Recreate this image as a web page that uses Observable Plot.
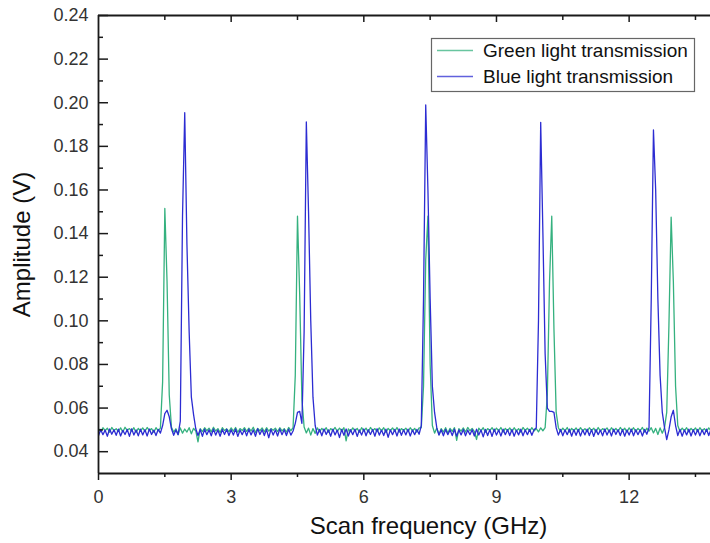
<!DOCTYPE html>
<html>
<head>
<meta charset="utf-8">
<script src="https://cdn.jsdelivr.net/npm/d3@7"></script>
<script src="https://cdn.jsdelivr.net/npm/@observablehq/plot@0.6"></script>
<style>
  html, body { margin: 0; padding: 0; background: #fff; }
  svg { display: block; }
</style>
</head>
<body>
<div id="chart"></div>
<script>
// ---- data (amplitude in mV, sampled every 0.05 GHz starting at 0 GHz) ----
const freqStep = 0.05;
const seriesNames = ["Green light transmission", "Blue light transmission"];
const seriesColors = ["#35b17f", "#2c2cd2"];
const greenAmp_mV = [
  50.6,49.2,51.0,49.6,50.8,48.9,51.1,49.7,50.5,49.3,50.9,49.0,51.2,49.8,50.6,49.4,51.0,48.8,50.7,49.5,
  50.9,49.3,51.1,49.7,50.6,48.9,51.0,49.6,50.8,72,151.5,118,66,51.2,49.0,50.5,47.8,50.9,48.5,50.4,
  49.0,51.0,48.2,50.7,49.5,44.5,50.6,49.2,51.0,49.6,50.8,49.1,51.2,49.5,50.6,48.8,51.0,49.7,50.5,49.2,
  50.9,49.4,51.1,48.9,50.6,49.7,51.0,49.3,50.8,49.5,51.2,48.8,50.7,49.6,50.9,49.1,51.0,49.4,50.6,49.8,
  50.8,49.2,51.0,49.5,50.6,49.0,51.1,49.6,51.0,75,148,112,64,51.3,48.6,50.8,47.6,50.6,48.4,50.9,
  49.1,50.7,49.5,51.0,48.9,50.6,49.7,51.1,49.3,50.8,49.6,51.0,45.0,50.5,49.2,50.9,49.5,50.7,48.9,51.0,
  49.4,50.8,49.0,51.1,49.6,50.6,49.2,50.9,49.5,51.0,48.8,50.7,49.6,50.9,49.3,51.1,49.0,50.6,49.7,50.8,
  49.2,51.0,49.5,50.7,49.0,50.9,51.0,70,128,148,80,52,48.5,50.8,47.8,50.6,49.0,51.0,48.6,50.7,
  49.3,51.0,45.2,50.6,49.4,50.9,49.0,51.1,49.6,50.7,49.2,45.6,50.8,49.5,51.0,48.9,50.6,49.7,51.0,49.3,
  50.8,49.5,51.1,49.0,50.7,49.6,50.9,49.2,51.0,49.4,50.6,48.9,51.1,49.7,50.8,49.3,51.0,49.5,50.6,49.1,
  50.9,49.6,51.0,66,118,148,96,58,51.0,49.2,50.8,49.5,51.1,49.0,50.7,49.6,50.9,49.3,51.0,49.5,
  50.6,49.2,51.0,49.7,50.8,48.9,51.1,49.4,50.6,49.8,50.9,49.1,51.0,49.5,50.7,49.3,51.1,49.6,50.8,49.0,
  50.9,49.5,51.0,49.2,50.7,49.6,51.1,49.0,50.8,49.4,51.0,48.6,50.7,47.9,50.9,48.5,51.0,58,98,147.5,
  118,70,52,49.3,50.8,49.5,51.0,49.1,50.7,49.6,50.9,49.2,51.0,49.5,50.6,49.3,50.9,49.6
];
const blueAmp_mV = [
  47.3,50.2,47.8,49.9,47.1,50.4,48.0,50.1,47.5,50.3,47.2,49.8,47.9,50.2,47.0,50.5,47.6,50.0,47.3,50.3,
  47.7,50.1,47.2,50.4,47.9,49.9,47.4,50.2,48.5,52,57.5,59,56,50.5,47.5,50.0,47.8,54,148,195.4,
  135,95,65,57,50.5,47.4,50.2,47.0,50.3,47.8,50.0,47.3,50.4,47.6,49.9,47.1,50.2,47.9,50.3,47.4,
  50.1,47.6,50.4,47.0,49.9,47.8,50.2,47.3,50.3,47.7,50.0,47.1,50.5,47.9,50.1,47.4,50.2,46.4,50.3,47.6,
  50.0,47.2,50.4,47.8,50.1,47.4,50.3,47.6,49.5,53,58,58.5,53,95,191.2,150,100,65,52,47.6,
  50.2,47.3,50.4,47.9,50.0,47.1,50.3,47.7,49.9,46.5,50.2,47.5,50.4,47.2,50.1,47.8,50.3,47.0,50.0,47.6,
  50.4,47.3,50.1,47.9,50.2,47.1,50.5,47.6,49.9,47.4,50.3,46.6,50.0,47.8,50.2,47.2,50.4,47.5,50.1,47.7,
  50.3,47.2,50.0,47.8,50.2,48.0,52,110,199,160,110,70,58,51,47.6,50.1,47.3,50.2,47.8,50.0,
  47.4,50.3,47.1,50.0,47.7,50.2,47.3,49.9,47.8,50.1,47.2,50.3,47.6,50.0,46.8,50.2,47.4,50.1,47.0,50.3,
  47.6,50.0,47.2,50.3,47.8,50.1,47.4,50.2,47.1,49.9,47.7,50.3,47.3,50.0,47.8,50.2,47.5,50.1,51,100,
  191,140,85,60,58.5,58.5,58,51,47.6,50.2,47.3,50.0,47.8,50.3,47.1,50.1,47.5,50.2,47.2,50.0,
  47.7,50.3,47.4,50.1,47.0,50.2,47.8,49.9,47.3,50.4,47.6,50.0,47.2,50.3,47.9,50.1,47.4,50.2,47.1,50.0,
  47.6,50.3,47.3,50.1,47.8,50.0,47.2,50.2,48.0,51,110,187.5,160,110,75,58,51,45.5,50,56,
  59,52,47.4,50.2,47.1,50.0,47.7,50.3,47.2,50.1,47.6,50.2,47.3,50.0,47.8,50.3,47.4,50.1
];
const xMajorTicks = [0, 3, 6, 9, 12];
const xMinorTicks = [1.5, 4.5, 7.5, 10.5, 13.5];
const yMajorTicks = [0.04, 0.06, 0.08, 0.10, 0.12, 0.14, 0.16, 0.18, 0.20, 0.22, 0.24];
const yMinorTicks = [0.05, 0.07, 0.09, 0.11, 0.13, 0.15, 0.17, 0.19, 0.21, 0.23];
const xTitle = "Scan frequency (GHz)";
const yTitle = "Amplitude (V)";
const xDomain = [0, 13.84];
const yDomain = [0.03, 0.24];

// ---- build tables ----
const toRows = (arr) => arr.map((v, i) => ({ freq: +(i * freqStep).toFixed(2), amp: v / 1000 }));
const green = toRows(greenAmp_mV);
const blue = toRows(blueAmp_mV);

const font = "'Liberation Sans', Arial, sans-serif";
const W = 710, H = 543;
const mL = 98, mT = 15, mB = 70, mR = 0;
const frameW = W - mL - mR, frameH = H - mT - mB;
const axisColor = "#1a1a1a";

const chart = Plot.plot({
  width: W,
  height: H,
  marginLeft: mL,
  marginRight: mR,
  marginTop: mT,
  marginBottom: mB,
  style: { fontFamily: font, background: "#fff", color: "#333" },
  x: { domain: xDomain, label: null },
  y: { domain: yDomain, label: null },
  marks: [
    // data
    Plot.line(green, { x: "freq", y: "amp", stroke: seriesColors[0], strokeWidth: 1.3, clip: true }),
    Plot.line(blue, { x: "freq", y: "amp", stroke: seriesColors[1], strokeWidth: 1.3, clip: true }),
    // frame lines (left, bottom, top)
    Plot.ruleX([xDomain[0]], { stroke: axisColor, strokeWidth: 1.8 }),
    Plot.ruleY([yDomain[0]], { stroke: axisColor, strokeWidth: 1.8 }),
    Plot.ruleY([yDomain[1]], { stroke: axisColor, strokeWidth: 1.8 }),
    // bottom axis
    Plot.axisX(xMajorTicks, { anchor: "bottom", tickSize: 7, tickPadding: 10, fontSize: 18, tickFormat: (d) => String(d), stroke: axisColor, strokeWidth: 1.5, fill: "#333", label: null }),
    Plot.axisX(xMinorTicks, { anchor: "bottom", tickSize: 4, text: null, stroke: axisColor, strokeWidth: 1.5, label: null }),
    // top inward ticks
    Plot.tickX(xMajorTicks.slice(1), { x: (d) => d, stroke: axisColor, strokeWidth: 1.5, insetBottom: frameH - 7 }),
    Plot.tickX(xMinorTicks, { x: (d) => d, stroke: axisColor, strokeWidth: 1.5, insetBottom: frameH - 5 }),
    // left axis labels + inward ticks
    Plot.axisY(yMajorTicks, { anchor: "left", tickSize: 0, tickPadding: 10, fontSize: 18, tickFormat: d3.format(".2f"), fill: "#333", label: null }),
    Plot.tickY(yMajorTicks, { y: (d) => d, stroke: axisColor, strokeWidth: 1.5, insetRight: frameW - 10 }),
    Plot.tickY(yMinorTicks, { y: (d) => d, stroke: axisColor, strokeWidth: 1.5, insetRight: frameW - 5 }),
    // axis titles
    Plot.text([xTitle], { text: (d) => d, frameAnchor: "bottom", textAnchor: "middle", dx: 24, dy: 60, fontSize: 24, fill: "#111" }),
    Plot.text([yTitle], { text: (d) => d, frameAnchor: "left", textAnchor: "middle", dx: -76, rotate: -90, fontSize: 24, fill: "#111" })
  ]
});

// ---- legend inside the plot area ----
const svg = d3.select(chart);
const lg = svg.append("g").attr("font-family", font).attr("text-anchor", "start");
lg.append("rect")
  .attr("x", 431.5).attr("y", 38.5).attr("width", 263).attr("height", 53)
  .attr("fill", "#fff").attr("stroke", "#666").attr("stroke-width", 1.2);
seriesNames.forEach((name, i) => {
  const cy = 50.5 + i * 26;
  lg.append("line")
    .attr("x1", 437).attr("x2", 473).attr("y1", cy).attr("y2", cy)
    .attr("stroke", seriesColors[i]).attr("stroke-opacity", 0.75).attr("stroke-width", 1.3);
  lg.append("text")
    .attr("x", 483).attr("y", cy).attr("dy", "0.35em")
    .attr("text-anchor", "start")
    .attr("font-size", 19).attr("fill", "#111").text(name);
});

document.getElementById("chart").appendChild(chart);
</script>
</body>
</html>
